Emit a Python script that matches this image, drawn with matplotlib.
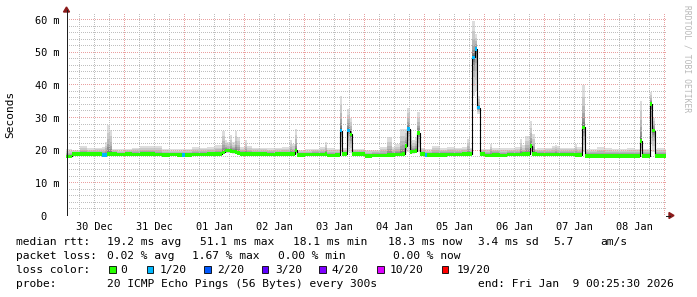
import numpy as np
import matplotlib
matplotlib.use('Agg')
import matplotlib.pyplot as plt
from matplotlib.patches import Rectangle, Polygon
from matplotlib.lines import Line2D

W, H = 697, 297

# ---------------- data ----------------
# baseline median rtt (ms) per 3-hour block, starting 30 Dec 00:00
base_median = [18.1, 18.8, 18.8, 18.8, 18.8, 18.7, 18.8, 18.7, 18.8, 18.7,
               18.8, 18.8, 18.7, 18.6, 18.7, 18.5, 18.6, 18.7, 18.7, 18.8,
               18.9, 19.0, 19.0, 18.9, 18.8, 18.8, 18.8, 18.7, 18.8, 18.8,
               18.8, 18.5, 18.7, 18.7, 18.7, 18.4, 18.6, 18.8, 18.8, 18.8,
               18.2, 18.4, 18.4, 18.5, 18.7, 18.8, 18.8, 18.8, 18.5, 18.6,
               18.6, 18.7, 18.7, 18.8, 18.8, 18.8, 18.4, 18.6, 18.4, 18.7,
               18.7, 18.8, 18.8, 18.7, 18.7, 18.7, 18.7, 18.7, 18.5, 18.3,
               18.3, 18.3, 18.3, 18.3, 18.3, 18.3, 18.3, 18.3, 18.3, 18.3, 18.3]
# baseline smoke top (max ping, ms) per 3-hour block
base_top = [20.3, 20.2, 21.4, 20.6, 20.8, 20.9, 20.5, 20.3, 20.4, 20.8,
            21.4, 21.2, 21.2, 20.5, 20.3, 20.3, 20.4, 20.9, 20.8, 21.0,
            21.5, 21.5, 21.5, 21.0, 21.3, 20.8, 20.8, 20.6, 20.8, 21.0,
            21.0, 20.2, 20.3, 20.5, 21.0, 20.6, 20.4, 20.6, 20.5, 20.4,
            20.2, 20.2, 20.9, 21.0, 22.0, 21.0, 21.0, 20.8, 20.4, 21.4,
            20.8, 21.1, 20.8, 21.0, 20.8, 20.5, 20.5, 20.8, 20.6, 20.6,
            21.0, 21.5, 20.5, 20.6, 20.8, 21.2, 20.8, 20.8, 21.0, 20.3,
            20.3, 20.9, 20.6, 20.3, 20.4, 20.6, 20.5, 20.5, 20.5, 20.6, 20.3]

# individual hours (since 30 Dec 00:00) that differ from the baseline
event_hour = [15, 16, 17, 18, 47, 63, 64, 65, 66, 67, 68, 69, 72, 90, 91, 92, 104,
              110, 113, 114, 129, 130, 134, 135, 136, 137, 138, 139, 140, 141, 144,
              161, 163, 164, 165, 170, 182, 184, 185, 186, 187, 196, 204, 207, 230,
              234, 235]
event_median = [18.6, 18.6, 18.9, 18.8, 18.5, 19.3, 19.9, 19.9, 19.8, 19.6, 19.4, 19.2,
                18.8, 18.8, 18.9, 19.9, 18.8, 26.0, 26.0, 24.8, 18.5, 18.5, 18.7, 18.8,
                21.3, 26.5, 19.4, 19.6, 19.8, 25.3, 18.5, 18.8, 48.4, 51.0, 33.0, 18.4,
                18.7, 18.8, 18.8, 21.2, 18.9, 18.7, 18.5, 27.0, 22.8, 34.2, 26.0]
nan = float('nan')
event_low = [nan, nan, 18.6, 18.6, nan, 18.7, 19.0, 19.0, 19.0, 18.9, 18.8, 18.8,
             nan, nan, nan, 18.9, nan, 19.2, 19.5, 19.2, nan, nan, nan, 18.6,
             19.0, 19.5, 18.9, 18.9, 19.0, 19.4, nan, nan, 36.5, 38.0, 31.0, nan,
             nan, nan, nan, 19.2, nan, nan, nan, 19.5, 18.9, 22.0, 19.5]
event_top = [21.0, 22.4, 27.8, 26.2, 20.3, 26.0, 23.0, 22.5, 24.5, 22.5, 26.0, 24.0,
             23.0, 23.0, 22.0, 26.6, 22.6, 36.7, 32.7, 30.0, 24.0, 24.0, 26.6, 26.6,
             26.6, 33.0, 26.0, 23.0, 24.0, 31.6, 20.4, 23.4, 59.5, 55.5, 36.5, 22.0,
             23.4, 24.4, 24.4, 29.0, 25.0, 21.7, 22.0, 39.8, 35.2, 37.8, 30.0]
event_loss = [1, 1, 0, 0, 1, 0, 0, 0, 0, 0, 0, 0, 0, 0, 0, 0, 0, 1, 1, 0, 0, 0, 0, 0,
              0, 1, 0, 0, 0, 0, 1, 0, 1, 1, 1, 0, 0, 0, 0, 0, 0, 0, 0, 0, 0, 0, 0]

x_tick_labels = ['30 Dec', '31 Dec', '01 Jan', '02 Jan', '03 Jan', '04 Jan',
                 '05 Jan', '06 Jan', '07 Jan', '08 Jan']
y_tick_values = [0, 10, 20, 30, 40, 50, 60]
y_tick_labels = ['0  ', '10 m', '20 m', '30 m', '40 m', '50 m', '60 m']

loss_labels = ['0', '1/20', '2/20', '3/20', '4/20', '10/20', '19/20']
loss_thresholds = [0, 1, 2, 3, 4, 10, 19]
loss_colors = ['#26ff00', '#00b8ff', '#0059ff', '#5e00ff', '#7e00ff', '#dd00ff', '#ff0000']

end_hour = 240.425   # Fri Jan 9 00:25:30

# ---------------- build hourly series ----------------
hours = np.arange(241)
med = np.array([base_median[h // 3] for h in hours], dtype=float)
top = np.array([base_top[h // 3] for h in hours], dtype=float)
low = med.copy()
loss = np.zeros(len(hours), dtype=int)
for h, m, lo, tp, ls in zip(event_hour, event_median, event_low, event_top, event_loss):
    med[h] = m
    top[h] = tp
    low[h] = m if np.isnan(lo) else lo
    loss[h] = ls

xe = np.append(hours.astype(float), end_hour)
def ext(a):
    return np.append(a, a[-1])

MONO = 'DejaVu Sans Mono'
plt.rcParams['font.family'] = MONO

# ---------------- figure / pixel-aligned axes ----------------
fig = plt.figure(figsize=(W / 100, H / 100), dpi=100)
fig.patch.set_facecolor('white')
AX_L, AX_R, AX_T, AX_B = 66, 666, 14, 216          # pixel box (rows from top)
PX_PER_H = 2.5
PX_PER_MS = 196 / 60.0
T0 = 0.6                                            # hour at left edge
V0 = -0.5 / PX_PER_MS                               # value at bottom edge
T1 = T0 + (AX_R - AX_L) / PX_PER_H
V1 = V0 + (AX_B - AX_T) / PX_PER_MS
ax = fig.add_axes([AX_L / W, 1 - AX_B / H, (AX_R - AX_L) / W, (AX_B - AX_T) / H])
ax.set_facecolor('white')

# smoke (smokeping style grey layers)
half = 10
for i in range(1, half + 1):
    g = int(190 / half * (half - i)) + 50
    col = '#%02x%02x%02x' % (g, g, g)
    frac = ((half + 1 - i) / half) ** 3
    hi = med + frac * (top - med)
    lo = med - frac * (med - low)
    ax.fill_between(xe, ext(lo), ext(hi), step='post', color=col, lw=0, zorder=2)

# dotted grid as a pixel image
nr, nc = AX_B - AX_T, AX_R - AX_L
grid = np.zeros((nr, nc, 4))
minor_rgb = (0.75, 0.75, 0.75)
major_rgb = (0.92, 0.63, 0.63)
for k in range(1, 31):
    row = int(round(215 - k * 2 * PX_PER_MS)) - AX_T
    rgb = major_rgb if k % 5 == 0 else minor_rgb
    cols = np.arange(1, nc, 2)
    grid[row, cols, :3] = rgb
    grid[row, cols, 3] = 1
for k in range(1, 41):
    colx = int(np.floor(AX_L + (6 * k - T0) * PX_PER_H)) - AX_L
    if colx >= nc:
        continue
    rgb = major_rgb if k % 4 == 0 else minor_rgb
    rows = np.arange(0, nr - 1, 2)
    grid[rows, colx, :3] = rgb
    grid[rows, colx, 3] = 1
ax.imshow(grid, extent=(T0, T1, V0, V1), origin='upper', interpolation='none',
          aspect='auto', zorder=2.5)

# median line
ax.step(xe, ext(med), where='post', color='black', lw=0.8, zorder=3)

# loss colour band
def loss_col(n):
    idx = 0
    for k, t in enumerate(loss_thresholds):
        if n >= t:
            idx = k
    return loss_colors[idx]

band = 1.1
widths = np.diff(xe)
ax.bar(hours, band, bottom=med - band / 2, width=widths, align='edge',
       color=[loss_col(n) for n in loss], lw=0, zorder=4)

ax.set_xlim(T0, T1)
ax.set_ylim(V0, V1)

# axis lines
ax.axhline(0, color='#202020', lw=0.72, zorder=6, snap=True)
ax.axvline(T0 + 0.5 / PX_PER_H, color='#202020', lw=0.72, zorder=6, snap=True)

ax.set_xticks([12 + 24 * k for k in range(len(x_tick_labels))])
ax.set_xticklabels(x_tick_labels, fontsize=7.4)
ax.set_yticks(y_tick_values)
ax.set_yticklabels(y_tick_labels, fontsize=7.4)
ax.tick_params(axis='x', length=0, pad=4.0)
ax.tick_params(axis='y', length=0, pad=4.8)
for s in ax.spines.values():
    s.set_visible(False)

# axis extension and arrows (figure pixel coords)
def fx(px):
    return px / W
def fy(py):
    return 1 - py / H
fig.add_artist(Line2D([fx(AX_R), fx(670)], [fy(215.5), fy(215.5)],
                      color='#202020', lw=0.72))
fig.add_artist(Line2D([fx(66.5), fx(66.5)], [fy(14), fy(10)],
                      color='#202020', lw=0.72))
fig.add_artist(Polygon([[fx(63.5), fy(12)], [fx(69.5), fy(12)], [fx(66.5), fy(7)]],
                       closed=True, color='#8b1a1a', transform=fig.transFigure))
fig.add_artist(Polygon([[fx(669), fy(212.5)], [fx(669), fy(218.5)], [fx(674), fy(215.5)]],
                       closed=True, color='#8b1a1a', transform=fig.transFigure))

# y label and watermark
fig.text(fx(10), fy(114), 'Seconds', rotation=90, ha='center', va='center', fontsize=8)
fig.text(fx(687), fy(5), 'RRDTOOL / TOBI OETIKER', rotation=270, ha='center', va='top',
         fontsize=5.8, color='#b8b8b8')

# legend text
fs = 8.1
def txt(x, y, s):
    fig.text(fx(x), fy(y), s, ha='left', va='baseline', fontsize=fs, color='black')

txt(16, 245, 'median rtt:')
txt(107, 245, '19.2 ms avg')
txt(200, 245, '51.1 ms max')
txt(293.3, 245, '18.1 ms min')
txt(387.7, 245, '18.3 ms now')
txt(478.3, 245, '3.4 ms sd')
txt(553.3, 245, '5.7')
txt(600, 245, 'am/s')

txt(16, 259, 'packet loss:')
txt(107.3, 259, '0.02 % avg')
txt(191.7, 259, '1.67 % max')
txt(278, 259, '0.00 % min')
txt(393, 259, '0.00 % now')

txt(16, 273, 'loss color:')
box_x = [109, 146.7, 204, 261.7, 319.3, 377.3, 441.7]
lab_x = [120.7, 160, 217.3, 275, 331.7, 390, 456.7]
for bx, lx, lab, col in zip(box_x, lab_x, loss_labels, loss_colors):
    fig.add_artist(Rectangle((fx(bx), fy(273)), 6.5 / W, 7.3 / H, transform=fig.transFigure,
                             facecolor=col, edgecolor='black', lw=0.6))
    txt(lx, 273, lab)

txt(16, 287, 'probe:')
txt(107.3, 287, '20 ICMP Echo Pings (56 Bytes) every 300s')
txt(478.3, 287, 'end: Fri Jan  9 00:25:30 2026')

fig.savefig('out.png', dpi=100, facecolor='white')
